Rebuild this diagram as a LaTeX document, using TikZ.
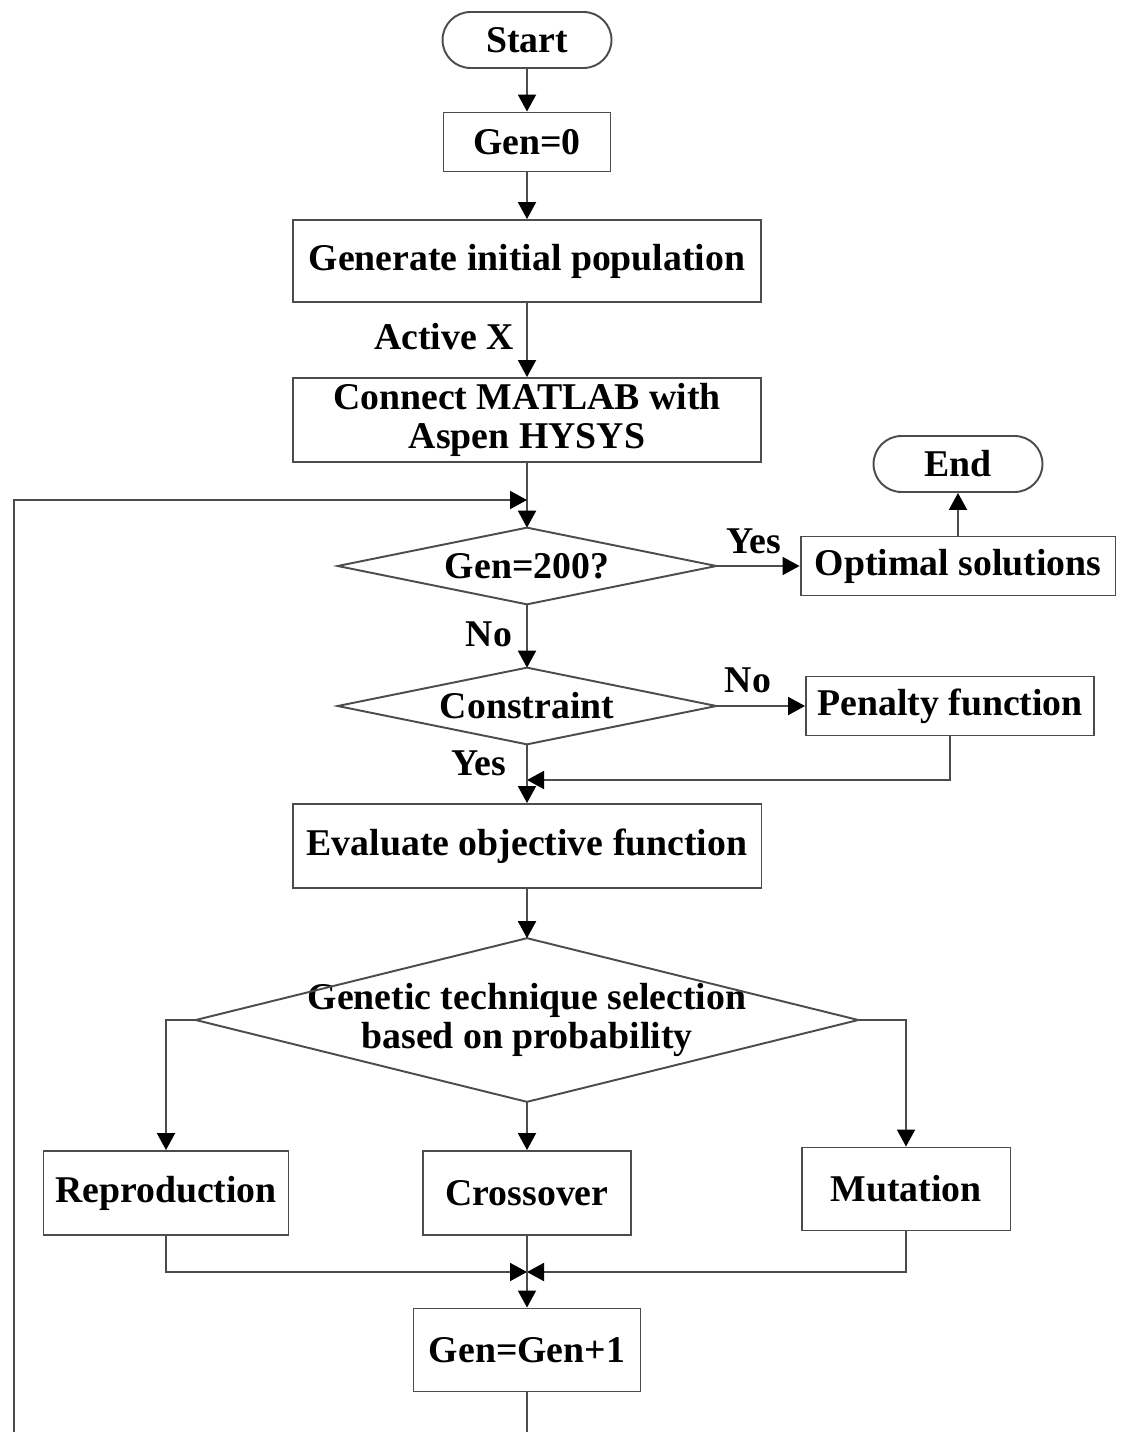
\documentclass[tikz,border=0pt]{standalone}
\usepackage{fontspec}
\setmainfont{Liberation Serif}
\usetikzlibrary{arrows.meta}
\begin{document}
\begin{tikzpicture}[x=0.02cm,y=-0.02cm,
  font=\bfseries\fontsize{21.5}{22}\selectfont,
  line/.style={draw=black!70, line width=1.1pt},
  arr/.style={line, -{Triangle[length=0.34cm,width=0.36cm,color=black]}},
  box/.style={line, rectangle, inner sep=0pt, align=center},
  term/.style={box, rounded corners=0.56cm},
  dia/.style={inner sep=0pt, align=center},
  lab/.style={inner sep=0pt}]
\useasboundingbox (0,0) rectangle (1122,1432);
\clip (0,0) rectangle (1122,1432);

% main column
\node[term, minimum width=3.38cm, minimum height=1.12cm] (start) at (527,40) {Start};
\node[box, minimum width=3.34cm, minimum height=1.18cm] (gen0) at (527,142) {Gen=0};
\node[box, minimum width=9.36cm, minimum height=1.64cm] (init) at (527,261) {Generate initial population};
\node[box, minimum width=9.36cm, minimum height=1.68cm] (conn) at (527,420) {Connect MATLAB with\\Aspen HYSYS};
\node[dia, minimum width=7.56cm, minimum height=1.52cm] (gtest) at (527,566) {Gen=200?};
\node[dia, minimum width=7.56cm, minimum height=1.52cm] (cons) at (527,706) {Constraint};
\node[box, minimum width=9.38cm, minimum height=1.68cm] (eval) at (527,846) {Evaluate objective function};
\node[dia, minimum width=13.24cm, minimum height=3.26cm] (sel) at (527,1020) {Genetic technique selection\\based on probability};
\node[box, minimum width=4.90cm, minimum height=1.68cm] (repr) at (166,1193) {Reproduction};
\node[box, minimum width=4.16cm, minimum height=1.68cm] (cross) at (527,1193) {Crossover};
\node[box, minimum width=4.18cm, minimum height=1.66cm] (mut) at (906,1189) {Mutation};
\node[box, minimum width=4.54cm, minimum height=1.66cm] (inc) at (527,1350) {Gen=Gen+1};

% side nodes
\node[box, minimum width=6.30cm, minimum height=1.18cm] (opt) at (958,566) {Optimal solutions};
\node[term, minimum width=3.38cm, minimum height=1.12cm] (end) at (958,464) {End};
\node[box, minimum width=5.76cm, minimum height=1.18cm] (pen) at (950,706) {Penalty function};

% diamond outlines
\foreach \d in {gtest,cons,sel}
  \draw[line] (\d.north) -- (\d.east) -- (\d.south) -- (\d.west) -- cycle;

% labels
\node[lab] (lax) at (444,337) {Active X};
\node[lab] (ly1) at (754,541) {Yes};
\node[lab] (ln1) at (489,634) {No};
\node[lab] (ln2) at (748,680) {No};
\node[lab] (ly2) at (479,763) {Yes};

% junction points
\coordinate (loopin) at (527,500);
\coordinate (penin) at (527,780);
\coordinate (merge) at (527,1272);

% connectors
\draw[arr] (start) -- (gen0);
\draw[arr] (gen0) -- (init);
\draw[arr] (init) -- (conn);
\draw[arr] (conn) -- (gtest.north);
\draw[arr] (gtest.east) -- (opt);
\draw[arr] (opt) -- (end);
\draw[arr] (gtest.south) -- (cons.north);
\draw[arr] (cons.east) -- (pen);
\draw[arr] (pen.south) |- (penin);
\draw[arr] (cons.south) -- (eval);
\draw[arr] (eval) -- (sel.north);
\draw[arr] (sel.west) -| (repr.north);
\draw[arr] (sel.south) -- (cross);
\draw[arr] (sel.east) -| (mut.north);
\draw[arr] (repr.south) |- (merge);
\draw[arr] (mut.south) |- (merge);
\draw[arr] (cross) -- (inc);
\draw[arr] (inc.south) -- (527,1470) -- (14,1470) -- (14,500) -- (loopin);
\end{tikzpicture}
\end{document}
